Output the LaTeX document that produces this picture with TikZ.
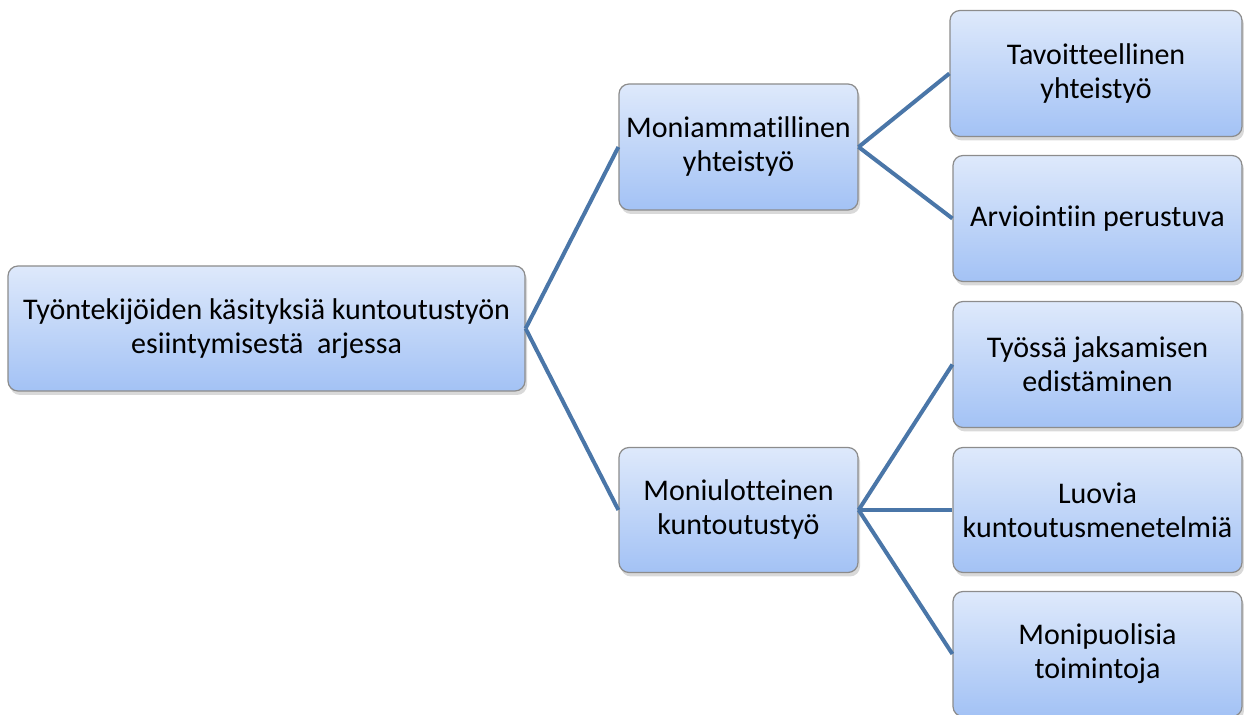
\documentclass[tikz,border=0pt]{standalone}
\usepackage{fontspec}
\setmainfont{Carlito}[Ligatures={NoCommon}]
\usetikzlibrary{shadows}
\definecolor{boxtop}{RGB}{222,233,251}
\definecolor{boxbot}{RGB}{163,194,245}
\definecolor{boxline}{RGB}{140,140,140}
\definecolor{linkblue}{RGB}{74,118,168}
\tikzset{
  box/.style={draw=boxline, line width=0.6pt, rounded corners=5pt,
    top color=boxtop, bottom color=boxbot, align=center,
    font=\fontsize{15}{17}\selectfont, text=black, inner sep=2pt,
    drop shadow={shadow xshift=1pt, shadow yshift=-2pt, opacity=0.3}},
  link/.style={draw=linkblue, line width=2pt}
}
\begin{document}
\begin{tikzpicture}[x=0.5pt,y=-0.5pt]
\useasboundingbox (0,0) rectangle (1244,715);
% root and middle level
\node[box, minimum width=258.5pt, minimum height=62.5pt] (root) at (266.5,328.5)
  {Työntekijöiden käsityksiä kuntoutustyön\\esiintymisestä~ arjessa};
\node[box, minimum width=119.5pt, minimum height=63pt] (ma) at (738.5,147)
  {Moniammatillinen\\yhteistyö};
\node[box, minimum width=119.5pt, minimum height=62.5pt] (mu) at (738.5,510)
  {Moniulotteinen\\kuntoutustyö};
% leaves
\node[box, minimum width=146pt, minimum height=63pt] (tav) at (1096,73.5)
  {Tavoitteellinen\\yhteistyö};
\node[box, minimum width=144.5pt, minimum height=63pt] (arv) at (1097.5,218.5)
  {Arviointiin perustuva};
\node[box, minimum width=144.5pt, minimum height=63pt] (tyo) at (1097.5,364.5)
  {Työssä jaksamisen\\edistäminen};
\node[box, minimum width=144.5pt, minimum height=62.5pt] (luo) at (1097.5,510)
  {Luovia\\kuntoutusmenetelmiä};
\node[box, minimum width=144.5pt, minimum height=62.5pt] (mon) at (1097.5,654)
  {Monipuolisia\\toimintoja};
% connectors
\draw[link] (root.east) -- (ma.west);
\draw[link] (root.east) -- (mu.west);
\draw[link] (ma.east) -- (tav.west);
\draw[link] (ma.east) -- (arv.west);
\draw[link] (mu.east) -- (tyo.west);
\draw[link] (mu.east) -- (luo.west);
\draw[link] (mu.east) -- (mon.west);
\end{tikzpicture}
\end{document}
